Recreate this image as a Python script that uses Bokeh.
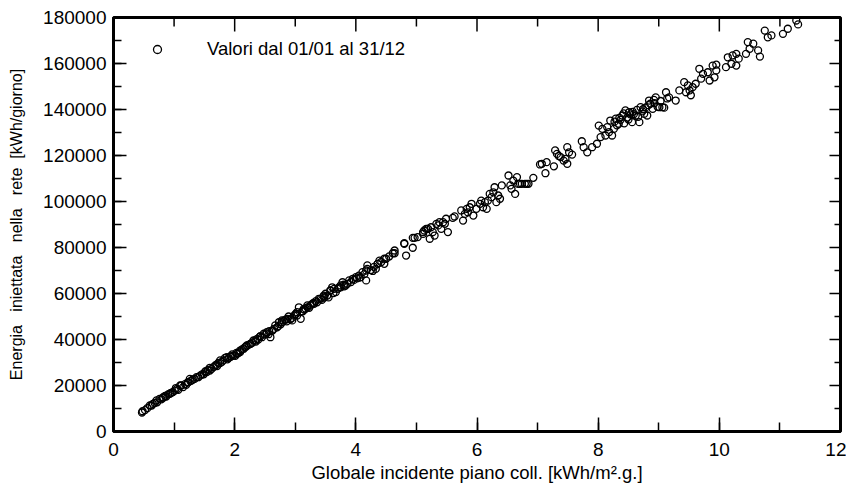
import math
from bokeh.plotting import figure
from bokeh.models import (Range1d, LinearAxis, SingleIntervalTicker, BasicTickFormatter,
                          Legend, LegendItem, ColumnDataSource)
from bokeh.embed import file_html
from bokeh.resources import INLINE

# Daily values
# (x: global irradiation on collector plane [kWh/m2.g.], y: energy fed to grid [kWh/giorno])
low_x = [0.47, 0.48, 0.60, 0.63, 0.65, 0.71, 0.72, 0.76, 0.82, 0.82, 0.87, 0.90, 0.93, 0.94,
         0.98, 1.05, 1.07, 1.10, 1.12, 1.15, 1.23, 1.23, 1.26, 1.29, 1.34, 1.37, 1.40, 1.46,
         1.51, 1.54, 1.59, 1.59, 1.65, 1.68, 1.70, 1.76, 1.76, 1.81, 1.84, 1.87, 1.93, 1.94,
         1.98, 2.01, 2.04, 2.09, 2.09, 2.15, 2.17, 2.20, 2.26, 2.26, 2.31, 2.34, 2.37, 2.42,
         2.42, 2.45, 2.48, 2.53, 2.53, 2.59, 2.62, 2.62, 2.67, 2.70, 2.73, 2.78, 2.78, 2.84,
         2.87, 2.89, 2.95, 2.95, 2.98, 3.03, 3.03, 3.06, 3.09, 3.12, 3.12, 3.14, 3.20, 3.20,
         3.25, 3.28, 3.31, 3.36, 3.39, 3.42, 3.47, 3.47, 3.53, 3.58, 3.58, 3.61, 3.64, 3.67,
         3.70, 3.75, 3.75, 3.78, 3.83, 3.86, 3.89, 3.95, 3.97, 4.00, 4.05, 4.08, 4.11, 4.17,
         4.17, 4.19, 4.19, 4.33, 4.36, 4.36, 4.39, 4.47, 4.47, 4.50, 4.61, 4.64]
low_y = [8260, 8800, 11300, 11300, 12000, 13500, 12700, 14200, 14600, 14900, 15200, 16100, 16400, 16700,
         17100, 18500, 18100, 20000, 20000, 19300, 21400, 21400, 22900, 22200, 22900, 23600, 23600, 24800,
         25800, 25800, 26500, 27700, 28000, 28700, 29000, 29700, 30900, 30900, 32000, 32300, 32600, 32600,
         33000, 32900, 33800, 34500, 35200, 36000, 36700, 37400, 38100, 38100, 39600, 39600, 40300, 41300,
         41300, 41000, 42500, 42700, 43200, 41000, 43900, 43900, 46100, 45300, 47500, 47500, 48300, 48600,
         49000, 50000, 48300, 49400, 50400, 50400, 51900, 54000, 49000, 52300, 52300, 53300, 54000, 54800,
         54800, 55500, 55500, 56200, 57700, 57700, 59100, 58700, 59100, 61300, 61300, 62700, 62000, 60600,
         62000, 62700, 63500, 64900, 63500, 64200, 65700, 66400, 65900, 67100, 67800, 67100, 69300, 70000,
         65700, 72200, 70700, 70700, 72900, 72900, 74300, 75100, 72900, 75100, 77500, 78700]

# extra days hidden in the dense lower band
band_x = [0.52, 0.56, 0.68, 0.79, 0.85, 0.96, 1.01, 1.18, 1.20, 1.31, 1.43, 1.49, 1.56, 1.62,
          1.73, 1.79, 1.90, 1.96, 2.06, 2.12, 2.23, 2.29, 2.39, 2.50, 2.56, 2.65, 2.76, 2.81,
          2.92, 3.00, 3.17, 3.23, 3.34, 3.44, 3.50, 3.55, 3.72, 3.80, 3.92, 4.02, 4.14, 4.25,
          4.30, 4.42, 4.55, 1.03, 1.27, 1.52, 1.71, 1.88, 2.03, 2.19, 2.35, 2.57, 2.72, 2.86,
          3.01, 3.15, 3.30, 3.48, 3.63, 3.81, 4.06, 4.28]
band_y = [9300, 10200, 12400, 14000, 15500, 16900, 17800, 20600, 20300, 22600, 24300, 24900, 26800, 27200,
          29800, 30300, 31900, 33500, 34100, 35700, 37700, 38600, 40000, 42100, 42300, 44600, 46600, 48200,
          48800, 50800, 53500, 53800, 56700, 57200, 59900, 58300, 62600, 63800, 65000, 66600, 68400, 70200,
          71600, 73700, 76100, 18900, 21900, 26200, 28400, 31400, 34200, 36900, 39100, 43600, 45800, 47900,
          51200, 52900, 55900, 58200, 60200, 63100, 66900, 69800]

mid_x = [4.64, 4.80, 4.80, 4.83, 4.94, 4.94, 4.97, 5.02, 5.11, 5.11, 5.13, 5.16, 5.19, 5.19,
         5.22, 5.24, 5.27, 5.30, 5.33, 5.36, 5.38, 5.41, 5.44, 5.47, 5.49, 5.52, 5.60, 5.63,
         5.74, 5.77, 5.80, 5.83, 5.85, 5.88, 5.91, 5.94, 5.99, 6.05, 6.07, 6.10, 6.13, 6.16,
         6.18, 6.21, 6.24, 6.27, 6.29, 6.32, 6.35, 6.38, 6.41, 6.52, 6.55, 6.57, 6.60, 6.63,
         6.66, 6.68, 6.71, 6.74, 6.79, 6.82, 6.85, 6.93, 7.04]
mid_y = [77500, 81900, 81600, 76500, 79900, 84200, 84200, 84500, 86700, 85900, 87400, 88100, 88100, 88100,
         83800, 88800, 86700, 85200, 90300, 89600, 91000, 88100, 91000, 90300, 92500, 86700, 92900, 93500,
         96100, 91700, 94600, 96800, 95300, 97500, 99000, 93900, 96800, 99000, 100400, 97500, 99700, 96800,
         100400, 103300, 101900, 104000, 106200, 99700, 102600, 101200, 107000, 111300, 107000, 105500, 109100, 103300,
         110600, 107700, 107700, 107700, 107700, 107700, 107700, 110300, 116100]

high_x = [7.07, 7.13, 7.15, 7.27, 7.29, 7.32, 7.35, 7.38, 7.43, 7.46, 7.49, 7.49, 7.52, 7.57,
          7.73, 7.76, 7.82, 7.90, 7.98, 8.01, 8.04, 8.07, 8.12, 8.15, 8.20, 8.23, 8.26, 8.29,
          8.31, 8.34, 8.37, 8.40, 8.43, 8.45, 8.48, 8.51, 8.53, 8.56, 8.59, 8.62, 8.64, 8.68,
          8.70, 8.73, 8.76, 8.78, 8.81, 8.84, 8.86, 8.90, 8.92, 8.95, 8.98, 9.01, 9.06, 9.09,
          9.12, 9.17, 9.28, 9.34, 9.42, 9.45, 9.51, 9.53, 9.56, 9.61, 9.67, 9.73, 9.81, 9.84,
          9.89, 9.92, 9.95, 9.95, 10.11, 10.14, 10.20, 10.22, 10.28, 10.28, 10.32, 10.44, 10.47, 10.50,
          10.56, 10.64, 10.67, 10.75, 10.80, 10.86, 11.05, 11.13, 11.27, 11.30,
          8.18, 8.27, 8.35, 8.42, 8.50, 8.57, 8.66, 8.74, 8.83, 8.93, 9.03, 9.14, 9.48, 9.70]
high_y = [116400, 112300, 117100, 115300, 122200, 120700, 119800, 119300, 117800, 118500, 116400, 123600, 121400, 120400,
          126200, 123600, 121400, 123600, 125100, 133000, 128000, 131600, 128700, 132300, 135200, 128700, 131600, 136000,
          133100, 133800, 135500, 137400, 134000, 139600, 136500, 138800, 137900, 134500, 138000, 137400, 139800, 134500,
          141000, 139200, 138100, 140800, 137400, 143900, 142500, 140300, 144200, 145300, 141200, 141000, 141000, 140800,
          147500, 145300, 143900, 148300, 151900, 147500, 148300, 146200, 149700, 151200, 157700, 155500, 156200, 152600,
          159100, 154000, 157000, 159500, 158400, 162700, 159900, 163500, 159100, 164200, 162100, 164200, 169300, 166400,
          168600, 165700, 163000, 174300, 171400, 172200, 172900, 175100, 178700, 177000,
          130200, 134700, 136400, 138300, 135600, 139000, 136800, 140100, 141900, 142800, 143700, 144800, 150500, 153400]

xs = low_x + band_x + mid_x + high_x
ys = low_y + band_y + mid_y + high_y

X_MAX = 12
Y_MAX = 180000
x_ticks_interval = 2
y_ticks_interval = 20000
legend_label = "Valori dal 01/01 al 31/12"
x_title = "Globale incidente piano coll. [kWh/m\u00b2.g.]"
nb = "\u00a0"
y_title = "Energia" + nb * 3 + "iniettata" + nb * 3 + "nella" + nb * 3 + "rete" + nb * 2 + "[kWh/giorno]"

FONT = "Liberation Sans"

p = figure(frame_width=727, frame_height=414, output_backend="svg", toolbar_location=None,
           x_range=Range1d(0, X_MAX), y_range=Range1d(0, Y_MAX),
           x_axis_type=None, y_axis_type=None,
           min_border_left=113, min_border_top=17, min_border_right=6, min_border_bottom=54)
p.outline_line_color = "black"
p.outline_line_width = 3
p.background_fill_color = "white"
p.border_fill_color = "white"


def make_axis(interval, tick_major, tick_minor):
    ax = LinearAxis(ticker=SingleIntervalTicker(interval=interval, num_minor_ticks=2),
                    formatter=BasicTickFormatter(use_scientific=False))
    ax.major_tick_in = tick_major
    ax.major_tick_out = 0
    ax.minor_tick_in = tick_minor
    ax.minor_tick_out = 0
    ax.axis_line_width = 3
    ax.axis_line_color = "black"
    ax.major_tick_line_color = "black"
    ax.minor_tick_line_color = "black"
    ax.major_tick_line_width = 1.5
    ax.minor_tick_line_width = 1.5
    ax.major_label_text_font = FONT
    ax.major_label_text_font_size = "19px"
    ax.major_label_text_color = "black"
    ax.axis_label_text_font = FONT
    ax.axis_label_text_font_style = "normal"
    ax.axis_label_text_color = "black"
    return ax


bottom = make_axis(x_ticks_interval, 14, 9)
bottom.major_label_standoff = 11
bottom.axis_label = x_title
bottom.axis_label_text_font_size = "18.5px"
bottom.axis_label_standoff = 3
p.add_layout(bottom, "below")

left = make_axis(y_ticks_interval, 13, 8)
left.major_label_standoff = 7
left.axis_label = y_title
left.axis_label_text_font_size = "16px"
left.axis_label_standoff = 15
p.add_layout(left, "left")

# inward ticks on the top and right frame edges (no labels there)
half_x = x_ticks_interval // 2
top_major = list(range(x_ticks_interval, X_MAX, x_ticks_interval))
top_minor = list(range(half_x, X_MAX, x_ticks_interval))
half_y = y_ticks_interval // 2
right_major = list(range(y_ticks_interval, Y_MAX, y_ticks_interval))
right_minor = list(range(half_y, Y_MAX, y_ticks_interval))

tick_style = dict(line_color="black", line_width=1.5, length_units="screen")
p.ray(x=top_major, y=[Y_MAX] * len(top_major), length=14, angle=-math.pi / 2, **tick_style)
p.ray(x=top_minor, y=[Y_MAX] * len(top_minor), length=9, angle=-math.pi / 2, **tick_style)
p.ray(x=[X_MAX] * len(right_major), y=right_major, length=11, angle=math.pi, **tick_style)
p.ray(x=[X_MAX] * len(right_minor), y=right_minor, length=6, angle=math.pi, **tick_style)

src = ColumnDataSource(dict(x=xs, y=ys))
r = p.scatter("x", "y", source=src, marker="circle", size=7, fill_color=None,
              line_color="black", line_width=1.3)

legend = Legend(items=[LegendItem(label=legend_label, renderers=[r])], location=(34, 371))
legend.border_line_color = None
legend.background_fill_alpha = 0
legend.padding = 0
legend.spacing = 0
legend.margin = 0
legend.label_standoff = 40
legend.glyph_width = 20
legend.glyph_height = 20
legend.label_text_font = FONT
legend.label_text_font_size = "18.5px"
legend.label_text_color = "black"
p.add_layout(legend)

open("out.html", "w").write(file_html(p, INLINE))
